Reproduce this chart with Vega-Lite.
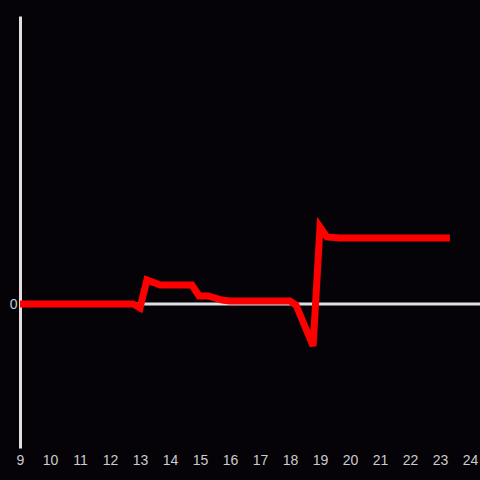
{
  "$schema": "https://vega.github.io/schema/vega-lite/v6.json",
  "width": 460,
  "height": 432,
  "autosize": {"type": "none"},
  "padding": {"left": 20, "top": 16, "right": 0, "bottom": 32},
  "background": "#050307",
  "config": {"view": {"stroke": null}},
  "datasets": {
    "series": [
      {"t": 9, "v": 0},
      {"t": 12.77, "v": 0},
      {"t": 13.0, "v": -4},
      {"t": 13.23, "v": 24},
      {"t": 13.67, "v": 19},
      {"t": 14.73, "v": 19},
      {"t": 14.97, "v": 8},
      {"t": 15.27, "v": 8},
      {"t": 15.73, "v": 4},
      {"t": 16, "v": 3},
      {"t": 18, "v": 3},
      {"t": 18.2, "v": -1},
      {"t": 18.77, "v": -42},
      {"t": 19.0, "v": 77},
      {"t": 19.23, "v": 67},
      {"t": 19.67, "v": 66},
      {"t": 23.33, "v": 66}
    ],
    "zero": [{"v": 0}]
  },
  "layer": [
    {
      "data": {"name": "zero"},
      "mark": {"type": "rule", "color": "#e0e0e0", "strokeWidth": 3},
      "encoding": {
        "y": {
          "field": "v", "type": "quantitative",
          "scale": {"domain": [-144, 288], "nice": false, "zero": false},
          "axis": {"values": [0], "domain": true, "domainColor": "#e0e0e0", "domainWidth": 3, "ticks": false, "grid": false, "title": null, "labelColor": "#cccccc", "labelFontSize": 14, "labelFont": "Liberation Sans", "labelPadding": 3}
        }
      }
    },
    {
      "data": {"name": "series"},
      "mark": {"type": "line", "color": "#ff0000", "strokeWidth": 7, "strokeJoin": "miter", "clip": false},
      "encoding": {
        "x": {
          "field": "t", "type": "quantitative",
          "scale": {"domain": [9, 24.3333], "nice": false, "zero": false},
          "axis": {"values": [9,10,11,12,13,14,15,16,17,18,19,20,21,22,23,24], "domain": false, "ticks": false, "grid": false, "title": null, "labelColor": "#cccccc", "labelFontSize": 14, "labelFont": "Liberation Sans", "labelPadding": 5, "labelFlush": false, "labelOverlap": false}
        },
        "y": {
          "field": "v", "type": "quantitative"
        }
      }
    }
  ]
}
